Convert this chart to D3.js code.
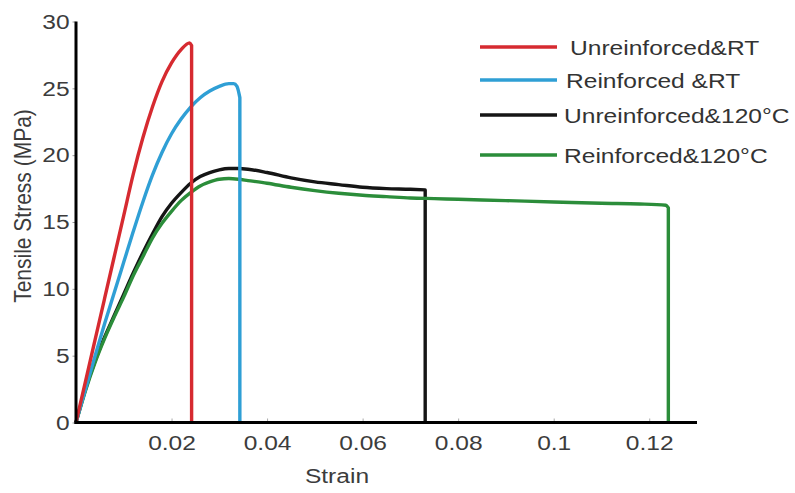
<!DOCTYPE html>
<html>
<head>
<meta charset="utf-8">
<script src="https://cdn.jsdelivr.net/npm/d3@7"></script>
<style>
    html, body { margin: 0; padding: 0; background: #fff; }
    text { font-family: "Liberation Sans", Arial, sans-serif; }
</style>
</head>
<body>
<div id="chart"></div>
<script>
// Series names and colours
const seriesNames = ["Unreinforced&RT", "Reinforced &RT", "Unreinforced&120°C", "Reinforced&120°C"];
const seriesColors = ["#d62a30", "#2f9fd5", "#151515", "#2b8d3a"];

// Unreinforced & RT
const redStrain = [0, 0.002, 0.004, 0.006, 0.008, 0.010, 0.012, 0.014, 0.016, 0.018, 0.020, 0.022, 0.0238, 0.0242];
const redStress = [0, 3.1, 6.2, 9.3, 12.4, 15.5, 18.6, 21.3, 23.6, 25.5, 26.9, 27.9, 28.4, 28.2];

// Reinforced & RT
const blueStrain = [0, 0.002, 0.004, 0.006, 0.008, 0.010, 0.012, 0.014, 0.016, 0.018, 0.020, 0.022, 0.024, 0.026, 0.028, 0.030, 0.032, 0.033, 0.0337, 0.0343];
const blueStress = [0, 2.5, 5.0, 7.4, 9.7, 12.0, 14.3, 16.5, 18.5, 20.2, 21.6, 22.7, 23.6, 24.3, 24.8, 25.15, 25.35, 25.35, 25.15, 24.3];

// Unreinforced & 120°C
const blackStrain = [0, 0.002, 0.004, 0.006, 0.008, 0.010, 0.012, 0.014, 0.016, 0.018, 0.020, 0.022, 0.024, 0.026, 0.028, 0.030, 0.032, 0.034, 0.036, 0.040, 0.045, 0.050, 0.055, 0.060, 0.065, 0.070, 0.0731];
const blackStress = [0, 2.5, 4.6, 6.4, 8.0, 9.6, 11.2, 12.7, 14.1, 15.4, 16.4, 17.2, 17.9, 18.4, 18.7, 18.9, 19.0, 19.0, 18.95, 18.7, 18.3, 18.0, 17.8, 17.6, 17.5, 17.45, 17.4];

// Reinforced & 120°C
const greenStrain = [0, 0.002, 0.004, 0.006, 0.008, 0.010, 0.012, 0.014, 0.016, 0.018, 0.020, 0.022, 0.024, 0.026, 0.028, 0.030, 0.032, 0.034, 0.036, 0.040, 0.045, 0.050, 0.055, 0.060, 0.065, 0.070, 0.075, 0.080, 0.090, 0.100, 0.110, 0.118, 0.1235, 0.124];
const greenStress = [0, 2.4, 4.5, 6.3, 7.9, 9.4, 11.0, 12.4, 13.8, 14.9, 15.8, 16.6, 17.2, 17.7, 18.0, 18.2, 18.25, 18.2, 18.1, 17.9, 17.6, 17.35, 17.15, 17.0, 16.9, 16.8, 16.75, 16.7, 16.6, 16.5, 16.4, 16.35, 16.25, 16.05];

// Axis ticks
const xTicks = [0.02, 0.04, 0.06, 0.08, 0.1, 0.12];
const xTickLabels = ["0.02", "0.04", "0.06", "0.08", "0.1", "0.12"];
const yTicks = [0, 5, 10, 15, 20, 25, 30];

const width = 795;
const height = 493;
const stretch = "scale(1.17,1)"; // the source picture is a bit wider than tall

const svg = d3.select("#chart").append("svg")
    .attr("width", width)
    .attr("height", height)
    .style("display", "block");

const x = d3.scaleLinear().domain([0, 0.13]).range([76, 697]);
const y = d3.scaleLinear().domain([0, 30]).range([422.5, 21.5]);

// x axis
const gX = svg.append("g")
    .attr("transform", `translate(0,${y(0)})`)
    .call(d3.axisBottom(x)
        .tickValues(xTicks)
        .tickFormat((d, i) => xTickLabels[i])
        .tickSizeInner(-4)
        .tickSizeOuter(0)
        .tickPadding(13));
gX.select(".domain").remove();
gX.selectAll(".tick line").attr("stroke", "#aaa");
gX.selectAll(".tick text")
    .attr("transform", stretch)
    .style("font-size", "21px")
    .style("font-family", "'Liberation Sans', Arial, sans-serif")
    .attr("fill", "#3c3c3c");

// y axis
const gY = svg.append("g")
    .attr("transform", `translate(${x(0) - 0.5},0)`)
    .call(d3.axisLeft(y)
        .tickValues(yTicks)
        .tickSizeInner(3)
        .tickSizeOuter(0)
        .tickPadding(2));
gY.select(".domain").remove();
gY.selectAll(".tick line").attr("stroke", "#999");
gY.selectAll(".tick text")
    .attr("transform", stretch)
    .style("font-size", "21px")
    .style("font-family", "'Liberation Sans', Arial, sans-serif")
    .attr("fill", "#3c3c3c");

// curves
const series = [
    { strain: blackStrain, stress: blackStress, color: seriesColors[2] },
    { strain: greenStrain, stress: greenStress, color: seriesColors[3] },
    { strain: blueStrain, stress: blueStress, color: seriesColors[1] },
    { strain: redStrain, stress: redStress, color: seriesColors[0] }
];

const line = d3.line()
    .x(d => x(d[0]))
    .y(d => y(d[1]))
    .curve(d3.curveMonotoneX);

series.forEach(s => {
    const pts = s.strain.map((v, i) => [v, s.stress[i]]);
    const last = pts[pts.length - 1];
    // curve, then the break: straight drop to zero stress
    svg.append("path")
        .attr("d", line(pts) + `L${x(last[0])},${y(0)}`)
        .attr("fill", "none")
        .attr("stroke", s.color)
        .attr("stroke-width", 3.4)
        .attr("stroke-linejoin", "round");
});

// axis lines on top
svg.append("line")
    .attr("x1", x(0) - 1.5).attr("x2", x(0.13))
    .attr("y1", y(0)).attr("y2", y(0))
    .attr("stroke", "#000").attr("stroke-width", 3);
svg.append("line")
    .attr("x1", x(0)).attr("x2", x(0))
    .attr("y1", y(30)).attr("y2", y(0) + 1.5)
    .attr("stroke", "#000").attr("stroke-width", 3);

// axis titles
svg.append("text")
    .attr("transform", `translate(337,483) ${stretch}`)
    .attr("text-anchor", "middle")
    .style("font-size", "21px")
    .attr("fill", "#3c3c3c")
    .text("Strain");

svg.append("text")
    .attr("transform", `translate(31,206) ${stretch} rotate(-90)`)
    .attr("text-anchor", "middle")
    .style("font-size", "21px")
    .attr("fill", "#3c3c3c")
    .text("Tensile Stress (MPa)");

// legend
const legendY = [47, 80, 115, 155];
const legendTextX = [570, 566, 564, 564];
const legend = svg.append("g");
seriesNames.forEach((name, i) => {
    legend.append("line")
        .attr("x1", 480).attr("x2", 557)
        .attr("y1", legendY[i]).attr("y2", legendY[i])
        .attr("stroke", seriesColors[i])
        .attr("stroke-width", 3.4);
    legend.append("text")
        .attr("transform", `translate(${legendTextX[i]},${legendY[i] + 8}) ${stretch}`)
        .style("font-size", "21px")
        .attr("fill", "#333")
        .text(name);
});
</script>
</body>
</html>
